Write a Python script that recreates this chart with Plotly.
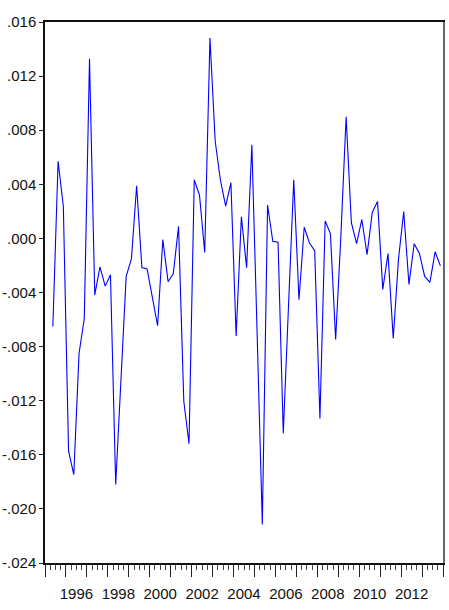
import plotly.graph_objects as go

# Quarterly series, 1995Q2 .. 2013Q4
start_year = 1995
start_quarter = 2
values = [
    -0.00652, 0.00570, 0.00238, -0.01573, -0.01746, -0.00851, -0.00592, 0.01328,
    -0.00418, -0.00211, -0.00353, -0.00268, -0.01819, -0.01098, -0.00281, -0.00151,
    0.00389, -0.00216, -0.00226, -0.00436, -0.00646, -0.00008, -0.00320, -0.00260,
    0.00090, -0.01202, -0.01518, 0.00433, 0.00321, -0.00104, 0.01481, 0.00718,
    0.00430, 0.00238, 0.00412, -0.00722, 0.00160, -0.00216, 0.00692, -0.00696,
    -0.02115, 0.00246, -0.00021, -0.00029, -0.01440, -0.00500, 0.00433, -0.00454,
    0.00083, -0.00034, -0.00091, -0.01331, 0.00129, 0.00036, -0.00748, 0.00018,
    0.00900, 0.00116, -0.00039, 0.00140, -0.00120, 0.00194, 0.00272, -0.00377,
    -0.00112, -0.00740, -0.00153, 0.00199, -0.00340, -0.00039, -0.00112, -0.00281,
    -0.00325, -0.00099, -0.00203,
]

y_ticks = [0.016, 0.012, 0.008, 0.004, 0.000, -0.004, -0.008, -0.012, -0.016, -0.020, -0.024]
y_tick_labels = [".016", ".012", ".008", ".004", ".000", "-.004", "-.008", "-.012", "-.016", "-.020", "-.024"]
year_ticks = list(range(1995, 2015))
label_years = [1996, 1998, 2000, 2002, 2004, 2006, 2008, 2010, 2012]

# observation positions: middle of each quarter
x = [start_year + (start_quarter - 1) / 4 + 0.125 + 0.25 * i for i in range(len(values))]

font_family = "Liberation Sans Narrow, Arial Narrow, Liberation Sans, Arial, sans-serif"

fig = go.Figure()
fig.add_trace(go.Scatter(x=x, y=values, mode="lines",
                         line=dict(color="#0000FF", width=1.1), showlegend=False))
# empty trace so the overlay axes (year labels, right border) get drawn
fig.add_trace(go.Scatter(x=[], y=[], xaxis="x2", yaxis="y2", showlegend=False, hoverinfo="skip"))

fig.update_layout(
    width=449, height=610,
    margin=dict(l=45, r=6, t=22, b=47),
    paper_bgcolor="white", plot_bgcolor="white",
    font=dict(family=font_family, size=15, color="#111"),
    xaxis=dict(
        range=[1995, 2014], tickmode="array", tickvals=year_ticks,
        ticktext=["" for _ in year_ticks],
        ticks="outside", ticklen=12, tickwidth=1, tickcolor="#222",
        minor=dict(dtick=0.25, tick0=1995, ticks="outside", ticklen=5, tickwidth=1, tickcolor="#444"),
        showline=True, linecolor="#111", linewidth=2, mirror=True,
        showgrid=False, zeroline=False, automargin=False,
    ),
    xaxis2=dict(
        overlaying="x", side="bottom", anchor="y2",
        range=[1995, 2014], tickmode="array",
        tickvals=[yv + 0.5 for yv in label_years], ticktext=[str(yv) for yv in label_years],
        ticks="outside", ticklen=12, tickcolor="rgba(0,0,0,0)",
        ticklabelstandoff=5,
        showline=False, showgrid=False, zeroline=False, automargin=False,
    ),
    yaxis=dict(
        range=[-0.024, 0.016], tickmode="array", tickvals=y_ticks, ticktext=y_tick_labels,
        ticks="outside", ticklen=4, tickwidth=1, tickcolor="#222",
        showline=True, linecolor="#111", linewidth=1.5, mirror=False,
        showgrid=False, zeroline=False, automargin=False,
    ),
    yaxis2=dict(
        overlaying="y", side="right", anchor="x2", range=[-0.024, 0.016],
        showline=True, linecolor="#666", linewidth=2,
        showticklabels=False, ticks="", showgrid=False, zeroline=False, automargin=False,
    ),
)

fig.write_html("out.html", config={"displayModeBar": False},
               post_script="document.body.style.margin='0';")
